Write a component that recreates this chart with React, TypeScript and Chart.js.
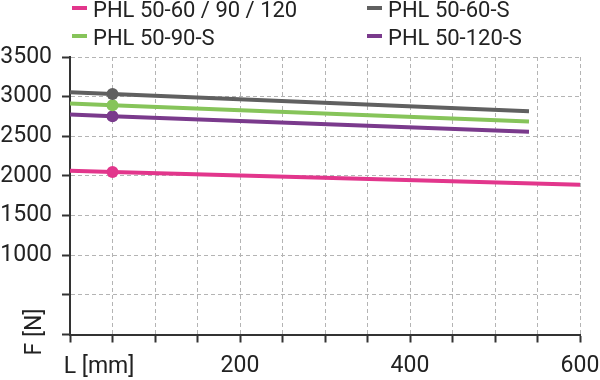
import React, { useEffect, useRef } from "react";
import { Chart, registerables } from "chart.js";

Chart.register(...registerables);

const seriesNames = ["PHL 50-60 / 90 / 120", "PHL 50-60-S", "PHL 50-90-S", "PHL 50-120-S"];
const seriesColors = ["#e2368c", "#606060", "#86c45a", "#7a3a8c"];

const lengthsPink = [0, 50, 600];
const forcePink = [2064, 2049, 1889];

const lengthsS = [0, 50, 540];
const forceGray = [3055, 3033, 2816];
const forceGreen = [2913, 2892, 2686];
const forcePurple = [2774, 2754, 2556];

const markerIndex = 1;

const xTickLabels = [200, 400, 600];
const yTickMinLabel = 1000;
const xTitle = "L [mm]";
const yTitle = "F [N]";

const FONT = "Roboto";
const TEXT = "#222222";

function pts(xs: number[], ys: number[]) {
  return xs.map((x, i) => ({ x, y: ys[i] }));
}

const extraText = {
  id: "extraText",
  afterDraw(chart: any) {
    const ctx = chart.ctx;
    const area = chart.chartArea;
    ctx.save();
    ctx.fillStyle = TEXT;
    ctx.font = `23px ${FONT}`;
    ctx.textAlign = "center";
    ctx.textBaseline = "middle";
    ctx.fillText(xTitle, area.left + 29, 367);
    ctx.translate(35, 332);
    ctx.rotate(-Math.PI / 2);
    ctx.fillText(yTitle, 0, 0);
    ctx.restore();

    ctx.save();
    ctx.font = `22px ${FONT}`;
    ctx.textAlign = "left";
    ctx.textBaseline = "alphabetic";
    const colX = [72, 367];
    const rowY = [17, 45];
    const dashY = [8, 36];
    chart.data.datasets.forEach((ds: any, i: number) => {
      const c = i % 2;
      const r = Math.floor(i / 2);
      ctx.fillStyle = ds.borderColor;
      ctx.fillRect(colX[c], dashY[r] - 2, 15, 4);
      ctx.fillStyle = TEXT;
      ctx.fillText(ds.label, colX[c] + 21, rowY[r]);
    });
    ctx.restore();
  },
};

export default function App() {
  const ref = useRef<HTMLCanvasElement>(null);

  useEffect(() => {
    if (!ref.current) return;
    const ys = [forcePink, forceGray, forceGreen, forcePurple];
    const xs = [lengthsPink, lengthsS, lengthsS, lengthsS];
    const datasets = seriesNames.map((name, i) => ({
      label: name,
      data: pts(xs[i], ys[i]),
      borderColor: seriesColors[i],
      backgroundColor: seriesColors[i],
      borderWidth: 4,
      pointRadius: xs[i].map((_, k) => (k === markerIndex ? 6 : 0)),
      pointHoverRadius: 6,
      pointBorderWidth: 0,
      fill: false,
      tension: 0,
    }));

    const chart = new Chart(ref.current, {
      type: "line",
      data: { datasets },
      options: {
        animation: false,
        responsive: false,
        layout: { padding: { top: 57, right: 20, left: 0, bottom: 0 } },
        plugins: { legend: { display: false }, tooltip: { enabled: false } },
        scales: {
          x: {
            type: "linear",
            min: 0,
            max: 600,
            afterFit: (s: any) => {
              s.height = 45.5;
              s.paddingLeft = 0;
              s.paddingRight = 0;
            },
            ticks: {
              stepSize: 50,
              autoSkip: false,
              maxRotation: 0,
              padding: 10,
              color: TEXT,
              font: { family: FONT, size: 23 },
              callback: (v: any) => (xTickLabels.includes(Number(v)) ? String(v) : ""),
            },
            grid: {
              color: "#b4b4b4",
              lineWidth: 1,
              tickColor: "#333333",
              tickWidth: 2,
              tickLength: 8,
              tickBorderDash: [],
            },
            border: { display: true, color: "#333333", width: 2, dash: [4, 3] },
          },
          y: {
            type: "linear",
            min: 0,
            max: 3500,
            afterFit: (s: any) => {
              s.width = 70;
            },
            ticks: {
              stepSize: 500,
              autoSkip: false,
              padding: 10,
              color: TEXT,
              font: { family: FONT, size: 23 },
              callback: (v: any) => (Number(v) >= yTickMinLabel ? String(v) : ""),
            },
            grid: {
              color: "#b4b4b4",
              lineWidth: 1,
              tickColor: "#333333",
              tickWidth: 2,
              tickLength: 8,
              tickBorderDash: [],
            },
            border: { display: true, color: "#333333", width: 2, dash: [4, 3] },
          },
        },
      },
      plugins: [extraText],
    });
    return () => chart.destroy();
  }, []);

  return (
    <div style={{ position: "fixed", left: 0, top: 0, width: 600, height: 380, background: "#fff" }}>
      <canvas ref={ref} width={600} height={380} style={{ display: "block" }} />
    </div>
  );
}
